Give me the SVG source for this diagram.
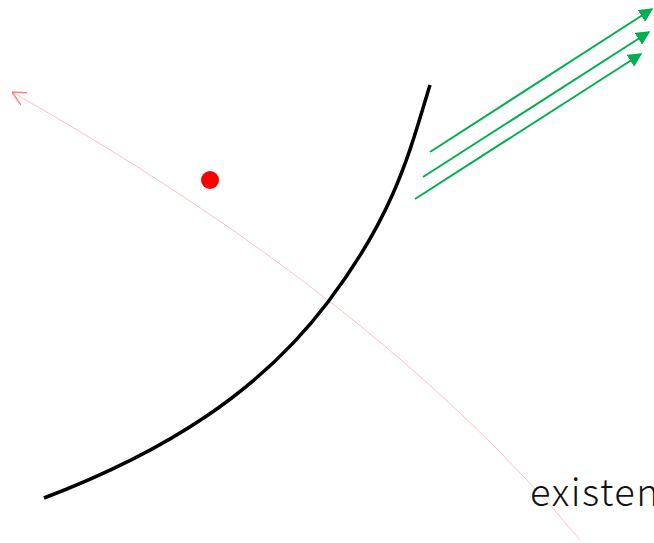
<svg xmlns="http://www.w3.org/2000/svg" width="654" height="543" viewBox="0 0 654 543">
<defs>
<marker id="gh" viewBox="0 0 10 10" refX="9" refY="5" markerWidth="7" markerHeight="7" orient="auto" markerUnits="strokeWidth"><path d="M0,0 L10,5 L0,10 z" fill="#00b050"/></marker>
<marker id="rh" viewBox="0 0 10 10" refX="10" refY="5" markerWidth="14" markerHeight="14" orient="auto" markerUnits="userSpaceOnUse"><path d="M0,0 L10,5 L0,10" fill="none" stroke="#ff8080" stroke-width="1"/></marker>
</defs>
<style>
.g{stroke:#00b050;stroke-width:2;fill:none;marker-end:url(#gh)}
</style>
<rect width="654" height="543" fill="#fff"/>
<g id="connectors">
<path d="M580,540 Q380,300 12,92" fill="none" stroke="#ffc0c8" stroke-width="1" marker-end="url(#rh)"/>
<line class="g" x1="430" y1="152" x2="652" y2="9"/>
<line class="g" x1="423" y1="177" x2="649" y2="32"/>
<line class="g" x1="415" y1="199" x2="641" y2="54"/>
</g>
<g id="curve">
<path d="M44,498 C165,452 260,392 328,302 S410,150 430,85" fill="none" stroke="#000" stroke-width="3.5"/>
</g>
<g id="dot"><circle cx="210" cy="180" r="9" fill="#ff0000"/></g>
<g id="label"><text x="530" y="506" font-family="Noto Sans CJK JP, sans-serif" font-weight="300" font-size="38" letter-spacing="1.5" fill="#111">existen</text></g>
</svg>
